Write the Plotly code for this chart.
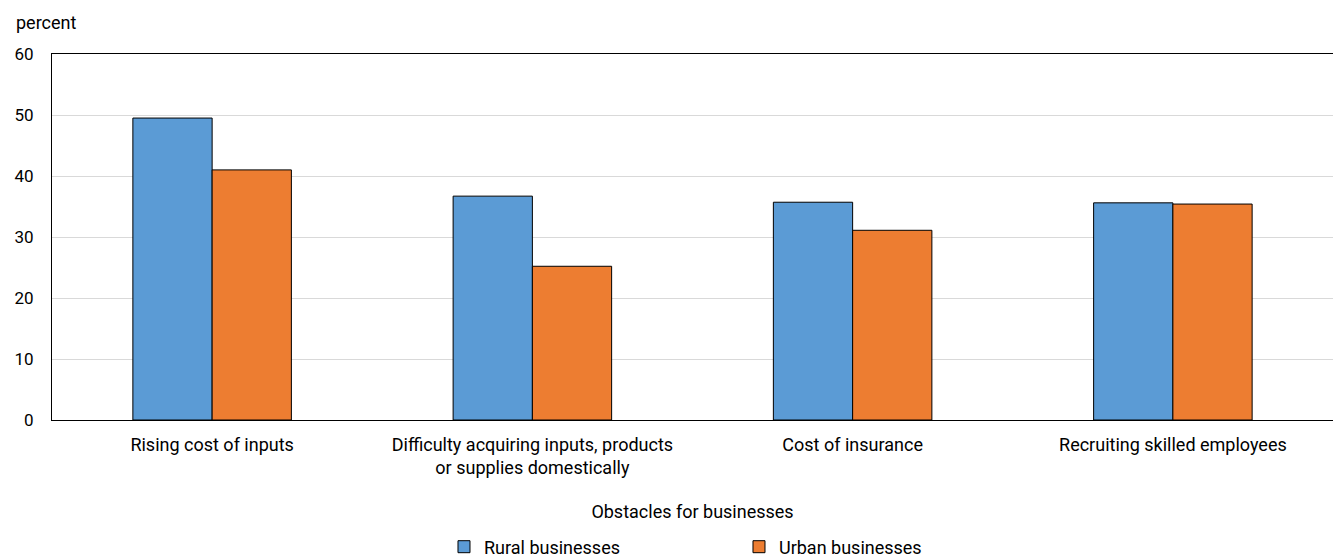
import plotly.graph_objects as go

categories = [
    "Rising cost of inputs",
    "Difficulty acquiring inputs, products<br>or supplies domestically",
    "Cost of insurance",
    "Recruiting skilled employees",
]
rural = [49.5, 36.7, 35.7, 35.6]
urban = [41.0, 25.2, 31.1, 35.4]

FONT = "Liberation Sans Narrow, Arial Narrow, Roboto, sans-serif"

fig = go.Figure()
fig.add_trace(go.Bar(
    name="Rural businesses", x=categories, y=rural,
    marker=dict(color="#5b9bd5", line=dict(color="#000000", width=1)),
))
fig.add_trace(go.Bar(
    name="Urban businesses", x=categories, y=urban,
    marker=dict(color="#ed7d31", line=dict(color="#000000", width=1)),
))

fig.update_layout(
    width=1333, height=560,
    margin=dict(l=52, r=0, t=54, b=140, autoexpand=False),
    paper_bgcolor="white", plot_bgcolor="white",
    font=dict(family=FONT, size=18, color="#000000"),
    barmode="group", bargap=0.505, bargroupgap=0,
    showlegend=True,
    legend=dict(
        orientation="h", x=0.306, xanchor="left",
        y=-0.347, yanchor="middle",
        entrywidth=250, entrywidthmode="pixels",
        itemwidth=30, traceorder="normal",
        font=dict(family=FONT, size=18),
    ),
    xaxis=dict(
        automargin=False,
        showline=True, linecolor="#000000", linewidth=1, mirror=True,
        ticks="", tickfont=dict(size=18), ticklabelstandoff=8,
        title=dict(text="Obstacles for businesses", font=dict(size=18), standoff=28),
    ),
    yaxis=dict(
        automargin=False,
        range=[0, 60], dtick=10,
        showline=True, linecolor="#000000", linewidth=1, mirror=True,
        showgrid=True, gridcolor="#d9d9d9", gridwidth=1,
        ticks="", tickfont=dict(size=17), ticklabelstandoff=14,
        zeroline=False,
    ),
    annotations=[dict(
        text="percent", xref="paper", yref="paper",
        x=0, xshift=-38, xanchor="left",
        y=1, yshift=32, yanchor="middle",
        showarrow=False, font=dict(family=FONT, size=18),
    )],
)

fig.write_html("out.html")
